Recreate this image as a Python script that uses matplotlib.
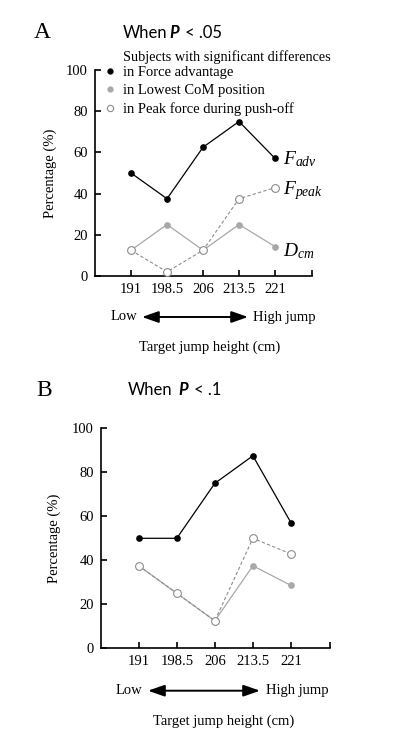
import numpy as np
import matplotlib
matplotlib.use("Agg")
import matplotlib.pyplot as plt
from matplotlib.lines import Line2D

plt.rcParams['font.family'] = 'Liberation Serif'
plt.rcParams['mathtext.fontset'] = 'custom'
plt.rcParams['mathtext.rm'] = 'Liberation Serif'
plt.rcParams['mathtext.it'] = 'Liberation Serif:italic'

heights = [191, 198.5, 206, 213.5, 221]
height_labels = ["191", "198.5", "206", "213.5", "221"]

# panel A, P < .05
fadv_a = [50, 37.5, 62.5, 75, 57.1]
dcm_a = [12.5, 25, 12.5, 25, 14.3]
fpeak_a = [12.5, 2, 12.5, 37.5, 42.9]

# panel B, P < .1
fadv_b = [50, 50, 75, 87.5, 57.1]
dcm_b = [37.5, 25, 12.5, 37.5, 28.6]
fpeak_b = [37.5, 25, 12.5, 50, 42.9]

W, H = 396, 745
fig = plt.figure(figsize=(W / 100, H / 100), dpi=100)

def px(x, y):
    return x / W, 1 - y / H

gray = "#a8a8a8"
ogray = "#8c8c8c"

def panel(rect, fadv, dcm, fpeak):
    ax = fig.add_axes(rect)
    ax.plot(heights, dcm, color=gray, lw=0.9, marker="o", ms=3.8,
            mfc=gray, mec=gray, clip_on=False, zorder=2)
    ax.plot(heights, fpeak, color=ogray, lw=0.8, ls=(0, (3, 2)), marker="o",
            ms=5.6, mfc="white", mec=ogray, mew=0.8, clip_on=False, zorder=3)
    ax.plot(heights, fadv, color="black", lw=0.9, marker="o", ms=3.8,
            mfc="black", mec="black", clip_on=False, zorder=4)
    ax.set_xlim(183.5, 228.7)
    ax.set_ylim(0, 100)
    ax.set_xticks(heights)
    ax.set_xticklabels(height_labels)
    ax.set_xticks([228.7], minor=True)
    ax.set_yticks([0, 20, 40, 60, 80, 100])
    ax.tick_params(direction="in", length=4, width=1.2, labelsize=10.5, pad=5)
    ax.tick_params(axis="x", which="minor", direction="in", length=4, width=1.2)
    for s in ["top", "right"]:
        ax.spines[s].set_visible(False)
    for s in ["left", "bottom"]:
        ax.spines[s].set_linewidth(1.2)
    return ax

def lower_labels(y_arrow, x_low, x0, x1, x_high, y_title, x_title):
    fig.text(*px(x_low, y_arrow), "Low", fontsize=10.5, va="center", ha="left")
    fig.text(*px(x_high, y_arrow), "High jump", fontsize=10.5, va="center", ha="left")
    fig.add_artist(matplotlib.patches.FancyArrowPatch(
        px(x0, y_arrow), px(x1, y_arrow), transform=fig.transFigure,
        arrowstyle="<|-|>,head_length=10,head_width=3.5", color="black", lw=1.4,
        mutation_scale=1, shrinkA=0, shrinkB=0))
    fig.text(*px(x_title, y_title), "Target jump height (cm)", fontsize=10.5,
             va="center", ha="center")

# ---- panel A
l, b = px(95, 276)
r, t = px(312, 70)
axA = panel([l, b, r - l, t - b], fadv_a, dcm_a, fpeak_a)
fig.text(*px(50, 173), "Percentage (%)", rotation=90, fontsize=10.5,
         va="center", ha="center")
fig.text(*px(34, 33), "A", fontsize=17, va="center", ha="left")
fig.text(*px(123, 33), "When", fontsize=12, family="Lato", va="center")
fig.text(*px(169, 33), "P", fontsize=12, family="Lato", weight="bold",
         style="italic", va="center")
fig.text(*px(185, 33), "< .05", fontsize=12, family="Lato", va="center")

axA.text(222.6, 56.5, r"$F_{adv}$", fontsize=14, va="center")
axA.text(222.6, 41.5, r"$F_{peak}$", fontsize=14, va="center")
axA.text(222.6, 12, r"$D_{cm}$", fontsize=14, va="center")

fig.text(*px(123, 57), "Subjects with significant differences", fontsize=10.3,
         va="center", ha="left")
handles = [
    Line2D([], [], ls="none", marker="o", ms=3.5, mfc="black", mec="black"),
    Line2D([], [], ls="none", marker="o", ms=3.5, mfc=gray, mec=gray),
    Line2D([], [], ls="none", marker="o", ms=4.5, mfc="white", mec=ogray, mew=0.8),
]
axA.legend(handles, ["in Force advantage", "in Lowest CoM position",
                     "in Peak force during push-off"],
           loc="upper left", bbox_to_anchor=px(104, 66),
           bbox_transform=fig.transFigure, frameon=False, fontsize=10.5,
           handlelength=0.8, handletextpad=0.5, labelspacing=0.33,
           borderpad=0, borderaxespad=0)

lower_labels(317, 111, 142, 248, 253, 347, 210)

# ---- panel B
l, b = px(100.7, 648.3)
r, t = px(330, 428.3)
axB = panel([l, b, r - l, t - b], fadv_b, dcm_b, fpeak_b)
fig.text(*px(54, 538), "Percentage (%)", rotation=90, fontsize=10.5,
         va="center", ha="center")
fig.text(*px(36, 390), "B", fontsize=17, va="center", ha="left")
fig.text(*px(128, 390), "When", fontsize=12, family="Lato", va="center")
fig.text(*px(178, 390), "P", fontsize=12, family="Lato", weight="bold",
         style="italic", va="center")
fig.text(*px(194, 390), "< .1", fontsize=12, family="Lato", va="center")

lower_labels(690.7, 116, 148, 260, 266, 721.7, 224)

fig.savefig("out.png", dpi=100)
